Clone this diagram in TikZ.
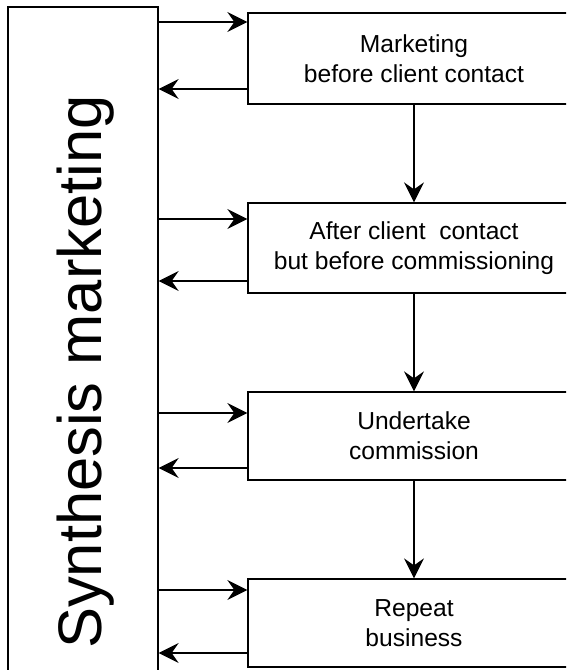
\documentclass[tikz,border=0pt]{standalone}
\usepackage{fontspec}
\setmainfont{Liberation Sans}
\usetikzlibrary{arrows.meta}
\begin{document}
\begin{tikzpicture}[x=1pt,y=1pt,
  frame/.style={draw=black, line width=1.3pt},
  stagebox/.style={frame, minimum width=332pt, inner sep=0pt, align=center,
    font=\fontsize{24.6}{30}\selectfont},
  arr/.style={line width=1.3pt, -{Stealth[length=20pt,width=20pt,inset=7pt]}}]
  \clip (0,0) rectangle (566,-670);
  % tall side panel, running off the bottom edge
  \node[frame, minimum width=150pt, minimum height=700pt, inner sep=0pt] (sm) at (83,-357) {};
  \node[rotate=90, anchor=base, font=\fontsize{61.5}{62}\selectfont] (smlabel) at (101,-372) {Synthesis marketing};
  % the four stages
  \node[stagebox, minimum height=91pt] (b1) at (414,-58.5) {Marketing\\before client contact};
  \node[stagebox, minimum height=90pt] (b2) at (414,-248) {After client\ \ contact\\but before commissioning};
  \node[stagebox, minimum height=88pt] (b3) at (414,-436) {Undertake\\commission};
  \node[stagebox, minimum height=88pt] (b4) at (414,-623) {Repeat\\business};
  % flow between stages
  \draw[arr] (b1.south) -- (b2.north);
  \draw[arr] (b2.south) -- (b3.north);
  \draw[arr] (b3.south) -- (b4.north);
  % exchanges with the side panel
  \draw[arr] (sm.east |- 0,-22) -- (b1.west |- 0,-22);
  \draw[arr] (b1.west |- 0,-89) -- (sm.east |- 0,-89);
  \draw[arr] (sm.east |- 0,-219) -- (b2.west |- 0,-219);
  \draw[arr] (b2.west |- 0,-281) -- (sm.east |- 0,-281);
  \draw[arr] (sm.east |- 0,-413) -- (b3.west |- 0,-413);
  \draw[arr] (b3.west |- 0,-468) -- (sm.east |- 0,-468);
  \draw[arr] (sm.east |- 0,-590) -- (b4.west |- 0,-590);
  \draw[arr] (b4.west |- 0,-653) -- (sm.east |- 0,-653);
\end{tikzpicture}
\end{document}
